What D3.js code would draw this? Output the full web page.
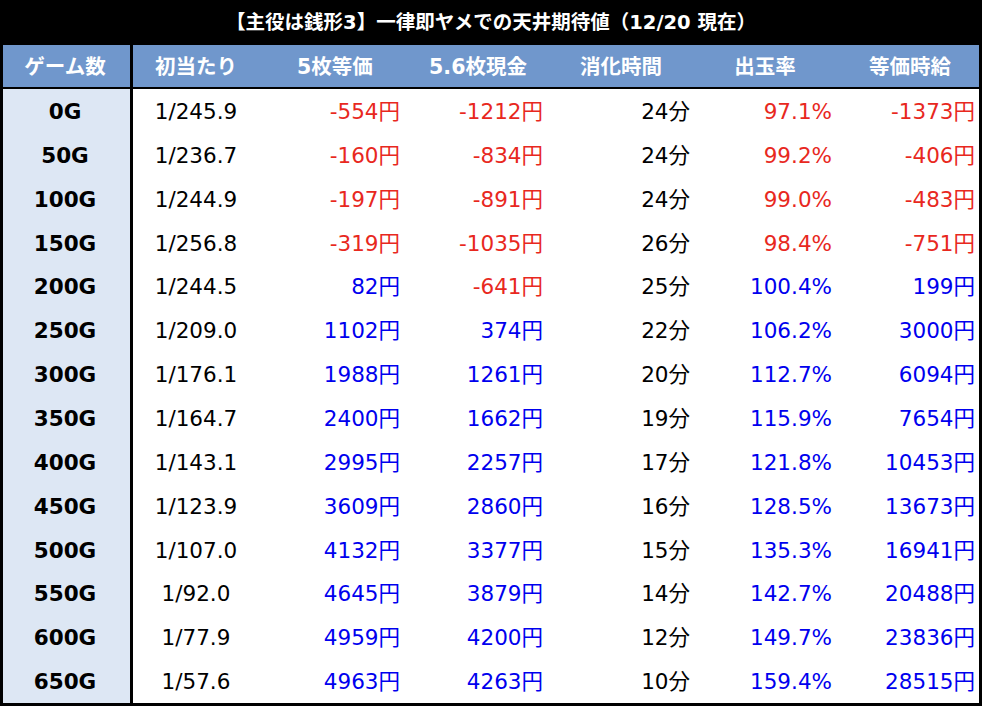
<!DOCTYPE html><html><head><meta charset="utf-8"><script src="https://cdn.jsdelivr.net/npm/d3@7"></script>
<style>body{margin:0;background:#000}svg{display:block}</style></head><body><svg id="c" width="982" height="706"></svg>
<script>
const title="【主役は銭形3】一律即ヤメでの天井期待値（12/20 現在）";
const headers=["ゲーム数","初当たり","5枚等価","5.6枚現金","消化時間","出玉率","等価時給"];
const games=["0G","50G","100G","150G","200G","250G","300G","350G","400G","450G","500G","550G","600G","650G"];
const hit=["1/245.9","1/236.7","1/244.9","1/256.8","1/244.5","1/209.0","1/176.1","1/164.7","1/143.1","1/123.9","1/107.0","1/92.0","1/77.9","1/57.6"];
const ev5=[-554,-160,-197,-319,82,1102,1988,2400,2995,3609,4132,4645,4959,4963];
const ev56=[-1212,-834,-891,-1035,-641,374,1261,1662,2257,2860,3377,3879,4200,4263];
const mins=[24,24,24,26,25,22,20,19,17,16,15,14,12,10];
const rate=[97.1,99.2,99.0,98.4,100.4,106.2,112.7,115.9,121.8,128.5,135.3,142.7,149.7,159.4];
const wage=[-1373,-406,-483,-751,199,3000,6094,7654,10453,13673,16941,20488,23836,28515];
const svg=d3.select("#c");
const F="Verdana, 'DejaVu Sans', 'Noto Sans CJK JP', sans-serif";
svg.append("rect").attr("width",982).attr("height",706).attr("fill","#000");
svg.append("text").attr("x",491).attr("y",29).attr("text-anchor","middle").attr("fill","#fff").attr("font-family",F).attr("font-weight","bold").attr("font-size",19.5).text(title);
svg.append("rect").attr("x",3).attr("y",45).attr("width",127).attr("height",42).attr("fill","#7097cc");
svg.append("rect").attr("x",133).attr("y",45).attr("width",846).attr("height",42).attr("fill","#7097cc");
const y=d3.scaleBand().domain(games).range([89,703]);
svg.append("rect").attr("x",3).attr("y",89).attr("width",127).attr("height",614).attr("fill","#dde7f4");
svg.append("rect").attr("x",133).attr("y",89).attr("width",846).attr("height",614).attr("fill","#fff");
const hx=[65,196,335,478,621,765,910];
svg.selectAll(".h").data(headers).join("text").attr("x",(d,i)=>hx[i]).attr("y",74).attr("text-anchor","middle").attr("fill","#fff").attr("font-family",F).attr("font-weight","bold").attr("font-size",20.5).text(d=>d);
const col=v=>v<0?"#e8281e":"#0000ee";
const yen=v=>v+"円";
const cols=[
 {x:65,a:"middle",f:d=>d,c:()=>"#000",b:true,data:games},
 {x:196,a:"middle",f:d=>d,c:()=>"#000",data:hit},
 {x:400,a:"end",f:yen,c:col,data:ev5},
 {x:543,a:"end",f:yen,c:col,data:ev56},
 {x:690,a:"end",f:d=>d+"分",c:()=>"#000",data:mins},
 {x:832,a:"end",f:d=>d.toFixed(1)+"%",c:d=>d<100?"#e8281e":"#0000ee",data:rate},
 {x:975,a:"end",f:yen,c:col,data:wage}];
cols.forEach(cl=>{
 svg.append("g").selectAll("text").data(cl.data).join("text")
  .attr("x",cl.x).attr("y",(d,i)=>y(games[i])+y.bandwidth()/2+8)
  .attr("text-anchor",cl.a).attr("fill",d=>cl.c(d)).attr("font-family",F)
  .attr("font-weight",cl.b?"bold":"normal").attr("font-size",21.5).text(d=>cl.f(d));
});
</script></body></html>
